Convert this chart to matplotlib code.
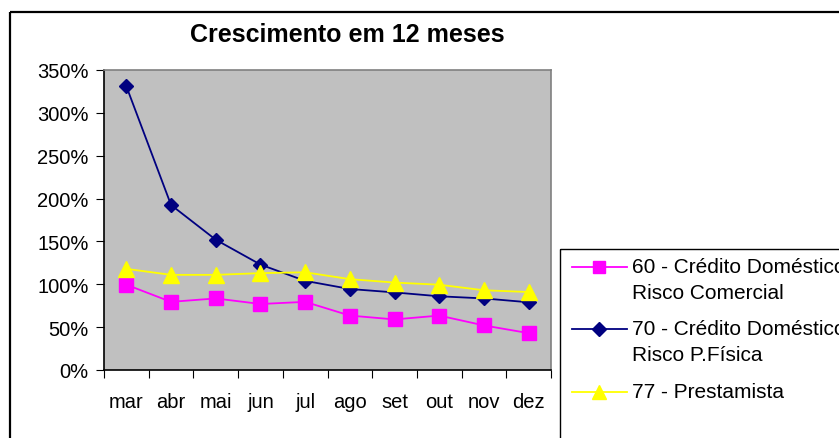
import matplotlib
matplotlib.use('Agg')
import matplotlib.pyplot as plt
from matplotlib.patches import Rectangle
from matplotlib.ticker import FuncFormatter, FixedLocator

plt.rcParams['font.family'] = ['Liberation Sans', 'DejaVu Sans']

meses = ['mar', 'abr', 'mai', 'jun', 'jul', 'ago', 'set', 'out', 'nov', 'dez']
risco_comercial = [99.5, 79.5, 83.5, 77, 79.5, 63.5, 59, 63.5, 52, 43]
risco_pfisica = [331, 192.5, 152, 123, 104, 94.5, 90.5, 86, 83.5, 79]
prestamista = [118, 111, 111, 113, 114, 106, 102, 99.5, 93, 91]
nomes = [['60 - Crédito Doméstico', 'Risco Comercial'],
         ['70 - Crédito Doméstico', 'Risco P.Física'],
         ['77 - Prestamista']]

W, H = 839, 439
fig = plt.figure(figsize=(W / 100, H / 100), dpi=100)
fig.patch.set_facecolor('white')

# overlay in pixel coords for the chart frame and the legend box
ov = fig.add_axes([0, 0, 1, 1])
ov.set_xlim(0, W)
ov.set_ylim(H, 0)
ov.axis('off')
ov.add_patch(Rectangle((10, 13), W, H, fill=False, edgecolor='black', linewidth=1.6))

ax = fig.add_axes([104 / W, 1 - 371 / H, (551 - 104) / W, (371 - 71) / H])
ax.set_facecolor('#C0C0C0')
for s in ax.spines.values():
    s.set_color('#808080')
    s.set_linewidth(1.2)
ax.spines['left'].set_color('black')
ax.spines['bottom'].set_color('black')

estilos = [
    dict(color='#FF00FF', marker='s', markersize=10),
    dict(color='#000080', marker='D', markersize=7.5),
    dict(color='#FFFF00', marker='^', markersize=11),
]
series = [risco_comercial, risco_pfisica, prestamista]

x = list(range(len(meses)))
for vals, st in zip(series, estilos):
    ax.plot(x, vals, linewidth=1.3, markeredgecolor=st['color'],
            markerfacecolor=st['color'], **st)

ax.set_xlim(-0.5, len(meses) - 0.5)
ax.set_ylim(0, 350)
ax.set_yticks(range(0, 351, 50))
ax.yaxis.set_major_formatter(FuncFormatter(lambda v, p: f'{int(v)}%'))
ax.xaxis.set_major_locator(FixedLocator([i - 0.5 for i in range(len(meses) + 1)]))
ax.xaxis.set_major_formatter(FuncFormatter(lambda v, p: ''))
ax.xaxis.set_minor_locator(FixedLocator(x))
ax.set_xticklabels(meses, minor=True)
ax.tick_params(axis='x', which='major', length=6, direction='out', color='black')
ax.tick_params(axis='x', which='minor', length=0, pad=16, labelsize=14.5)
ax.tick_params(axis='y', length=6, direction='out', labelsize=14.5, color='black', pad=5)

fig.text(347 / W, 1 - 35 / H, 'Crescimento em 12 meses', ha='center', va='center',
         fontsize=18, fontweight='bold')

# legend box: handle aligned with the first line of each label
ov.add_patch(Rectangle((560, 250), W, H, fill=False, edgecolor='black', linewidth=1.0))
linha_y = [268, 330, 393]
for linhas, st, yy in zip(nomes, estilos, linha_y):
    ov.plot([572, 627], [yy, yy], color=st['color'], linewidth=1.3)
    ov.plot([599], [yy], linestyle='none', marker=st['marker'],
            markersize=st['markersize'] * 0.9, color=st['color'])
    for k, t in enumerate(linhas):
        ov.text(632, yy + 26 * k, t, fontsize=15, ha='left', va='center')

fig.savefig('out.png', dpi=100)
